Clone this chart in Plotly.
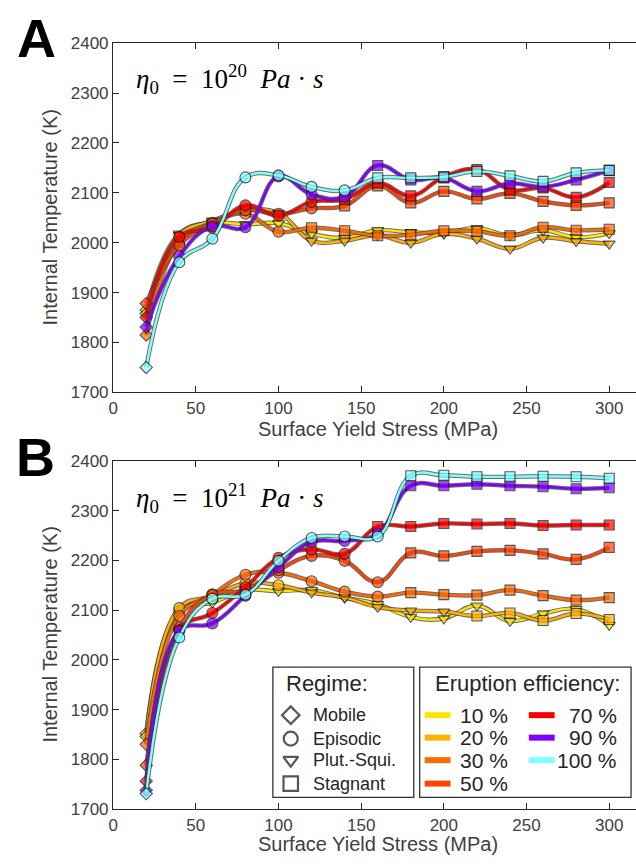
import plotly.graph_objects as go

W, H = 636, 865


def fx(p):
    return p / W


def fy(p):
    return 1 - p / H


# ---------------- data ----------------
stress = [20, 40, 60, 80, 100, 120, 140, 160, 180, 200, 220, 240, 260, 280, 300]
efficiency = ["10 %", "20 %", "30 %", "50 %", "70 %", "90 %", "100 %"]
colors = ["#FFE600", "#FFB000", "#FF6A00", "#FF4400", "#FF0000", "#8000FF", "#80FFFF"]

# Panel A: eta0 = 1e20 Pa s
A_10 = [1865, 2018, 2040, 2037, 2039, 2018, 2010, 2025, 2021, 2020, 2029, 2015, 2025, 2011, 2019]
A_20 = [1858, 2015, 2044, 2065, 2060, 2004, 2004, 2015, 2000, 2018, 2008, 1988, 2010, 2003, 1998]
A_30 = [1815, 2000, 2040, 2058, 2022, 2030, 2024, 2014, 2016, 2024, 2023, 2014, 2031, 2025, 2027]
A_50 = [1878, 1995, 2038, 2065, 2058, 2069, 2074, 2114, 2080, 2103, 2088, 2099, 2083, 2075, 2080]
A_70 = [1850, 2012, 2030, 2075, 2054, 2082, 2087, 2120, 2094, 2132, 2147, 2106, 2110, 2091, 2121]
A_90 = [1831, 1973, 2033, 2031, 2133, 2097, 2092, 2155, 2126, 2130, 2103, 2119, 2112, 2126, 2145]
A_100 = [1750, 1961, 2008, 2131, 2135, 2112, 2105, 2130, 2130, 2132, 2143, 2134, 2123, 2140, 2145]

# regimes: M=Mobile, E=Episodic, P=Plut.-Squi., S=Stagnant
A_reg_10 = list("MPPPPPPPPPPPPPP")
A_reg_20 = list("MPPPPPPPPPPPPPP")
A_reg_30 = list("MEEEESSSSSSSSSS")
A_reg_50 = list("MEEEEESSSSSSSSS")
A_reg_70 = list("MEEEEESSSSSSSSS")
A_reg_90 = list("MEEEEEESSSSSSSS")
A_reg_100 = list("MEEEEEESSSSSSSS")

# Panel B: eta0 = 1e21 Pa s
B_10 = [1852, 2098, 2115, 2140, 2138, 2140, 2125, 2112, 2086, 2083, 2109, 2078, 2093, 2102, 2070]
B_20 = [1846, 2104, 2128, 2154, 2150, 2135, 2125, 2106, 2099, 2097, 2088, 2094, 2079, 2093, 2081]
B_30 = [1830, 2088, 2131, 2171, 2175, 2158, 2137, 2127, 2135, 2131, 2130, 2140, 2129, 2120, 2125]
B_50 = [1788, 2064, 2131, 2140, 2180, 2209, 2199, 2156, 2215, 2209, 2218, 2220, 2213, 2202, 2226]
B_70 = [1756, 2060, 2094, 2146, 2205, 2222, 2213, 2268, 2268, 2274, 2273, 2274, 2270, 2271, 2271]
B_90 = [1738, 2058, 2073, 2129, 2186, 2237, 2239, 2254, 2350, 2350, 2353, 2350, 2348, 2344, 2346]
B_100 = [1731, 2045, 2123, 2131, 2199, 2245, 2248, 2248, 2370, 2371, 2368, 2368, 2369, 2368, 2365]

B_reg_10 = list("MEPPPPPPPPPPPPP")
B_reg_20 = list("MEEEEPPPPPSSSSS")
B_reg_30 = list("MEEEEEEESSSSSSS")
B_reg_50 = list("MEEEEEEESSSSSSS")
B_reg_70 = list("MEEEEEESSSSSSSS")
B_reg_90 = list("MEEEEEEESSSSSSS")
B_reg_100 = list("MEEEEEEESSSSSSS")

regime_names = ["Mobile", "Episodic", "Plut.-Squi.", "Stagnant"]
x_ticks = [0, 50, 100, 150, 200, 250, 300]
y_ticks = [1700, 1800, 1900, 2000, 2100, 2200, 2300, 2400]

panels = [
    ("x", "y", [A_10, A_20, A_30, A_50, A_70, A_90, A_100],
     [A_reg_10, A_reg_20, A_reg_30, A_reg_50, A_reg_70, A_reg_90, A_reg_100]),
    ("x2", "y2", [B_10, B_20, B_30, B_50, B_70, B_90, B_100],
     [B_reg_10, B_reg_20, B_reg_30, B_reg_50, B_reg_70, B_reg_90, B_reg_100]),
]

sym_map = {"M": "diamond", "E": "circle", "P": "triangle-down", "S": "square"}
size_map = {"M": 9.5, "E": 11, "P": 10.5, "S": 10}

fig = go.Figure()

for xa, ya, series, regimes in panels:
    for vals, regs, col in zip(series, regimes, colors):
        fig.add_trace(go.Scatter(
            x=stress, y=vals, xaxis=xa, yaxis=ya, mode="lines",
            line=dict(color="rgba(60,60,60,0.75)", width=4.4, shape="spline", smoothing=1.2),
            hoverinfo="skip", showlegend=False))
        fig.add_trace(go.Scatter(
            x=stress, y=vals, xaxis=xa, yaxis=ya, mode="lines+markers",
            line=dict(color=col, width=2.4, shape="spline", smoothing=1.2),
            marker=dict(symbol=[sym_map[r] for r in regs],
                        size=[size_map[r] for r in regs],
                        color=col, line=dict(color="#111111", width=1.1)),
            showlegend=False))

# legend regime symbols (pixel overlay axes)
leg_rows = [722, 746, 768, 792]
fig.add_trace(go.Scatter(
    x=[288] * 4, y=leg_rows, xaxis="x3", yaxis="y3", mode="markers",
    marker=dict(symbol=["diamond", "circle", "triangle-down", "square"],
                size=[13.5, 14, 13, 14.5], color="white",
                line=dict(color="#111111", width=2.2)),
    hoverinfo="skip", showlegend=False))

axis_font = dict(family="Liberation Sans, Arial, sans-serif", size=17, color="#404040")
common_x = dict(range=[0, 316.2], tickvals=x_ticks, ticks="inside", ticklen=6,
                tickcolor="#262626", showline=True, linecolor="#262626", linewidth=1.3,
                mirror="ticks", showgrid=False, zeroline=False, tickfont=axis_font,
                fixedrange=True)
common_y = dict(range=[1700, 2400], tickvals=y_ticks, ticks="inside", ticklen=6,
                tickcolor="#262626", showline=True, linecolor="#262626", linewidth=1.3,
                showgrid=False, zeroline=False, tickfont=axis_font, fixedrange=True)

fig.update_layout(
    width=W, height=H, margin=dict(l=0, r=0, t=0, b=0),
    paper_bgcolor="white", plot_bgcolor="rgba(0,0,0,0)",
    xaxis=dict(domain=[fx(109), 1], anchor="y", **common_x),
    yaxis=dict(domain=[fy(392), fy(35)], anchor="x", **common_y),
    xaxis2=dict(domain=[fx(109), 1], anchor="y2", **common_x),
    yaxis2=dict(domain=[fy(818), fy(462)], anchor="x2", **common_y),
    xaxis3=dict(domain=[0, 1], range=[0, W], visible=False, anchor="y3", fixedrange=True),
    yaxis3=dict(domain=[0, 1], range=[H, 0], visible=False, anchor="x3", fixedrange=True),
)

ann = []
title_font = dict(family="Liberation Sans, Arial, sans-serif", size=20, color="#404040")
for yc_title, yc_y in [(429, 213.5), (854, 640)]:
    ann.append(dict(text="Surface Yield Stress (MPa)", x=fx(376), y=fy(yc_title), xref="paper",
                    yref="paper", showarrow=False, font=title_font, xanchor="center", yanchor="middle"))
    ann.append(dict(text="Internal Temperature (K)", x=fx(45), y=fy(yc_y), xref="paper",
                    yref="paper", showarrow=False, font=title_font, textangle=-90,
                    xanchor="center", yanchor="middle"))

letter_font = dict(family="Liberation Sans, Arial, sans-serif", size=54, color="black")
ann.append(dict(text="<b>A</b>", x=fx(32), y=fy(30), xref="paper", yref="paper",
                showarrow=False, font=letter_font, xanchor="center", yanchor="middle"))
ann.append(dict(text="<b>B</b>", x=fx(31), y=fy(458), xref="paper", yref="paper",
                showarrow=False, font=letter_font, xanchor="center", yanchor="middle"))

eta_font = dict(family="Liberation Serif, Times New Roman, serif", size=27, color="black")
for exp, yc in [("20", 72), ("21", 500)]:
    ann.append(dict(
        text=f"<i>η</i><sub>0</sub>&nbsp;&nbsp;=&nbsp;&nbsp;10<sup>{exp}</sup>&nbsp;&nbsp;<i>Pa</i>&nbsp;·&nbsp;<i>s</i>",
        x=fx(130), y=fy(yc), xref="paper", yref="paper", showarrow=False, font=eta_font,
        xanchor="left", yanchor="middle"))

# legend boxes
shapes = []
for x0, x1 in [(270, 412), (418, 631)]:
    shapes.append(dict(type="rect", xref="paper", yref="paper", x0=fx(x0), x1=fx(x1),
                       y0=fy(806), y1=fy(673), line=dict(color="#333333", width=1.3),
                       fillcolor="white", layer="below"))

leg_title_font = dict(family="Liberation Sans, Arial, sans-serif", size=22, color="#262626")
ann.append(dict(text="Regime:", x=fx(325), y=fy(690), xref="paper", yref="paper",
                showarrow=False, font=leg_title_font, xanchor="center", yanchor="middle"))
ann.append(dict(text="Eruption efficiency:", x=fx(527), y=fy(690), xref="paper", yref="paper",
                showarrow=False, font=leg_title_font, xanchor="center", yanchor="middle"))

reg_font = dict(family="Liberation Sans, Arial, sans-serif", size=18, color="#262626")
for name, yr in zip(regime_names, leg_rows):
    ann.append(dict(text=name, x=fx(308), y=fy(yr), xref="paper", yref="paper",
                    showarrow=False, font=reg_font, xanchor="left", yanchor="middle"))

eff_font = dict(family="Liberation Sans, Arial, sans-serif", size=21, color="#262626")
eff_rows = [722, 745, 768, 792]
for i, (lab, col) in enumerate(zip(efficiency, colors)):
    if i < 4:
        lx0, lx1, yr = 423, 449, eff_rows[i]
        ann.append(dict(text=lab, x=fx(457), y=fy(yr), xref="paper", yref="paper",
                        showarrow=False, font=eff_font, xanchor="left", yanchor="middle"))
    else:
        lx0, lx1, yr = 528, 554, eff_rows[i - 4]
        ann.append(dict(text=lab, x=fx(619), y=fy(yr), xref="paper", yref="paper",
                        showarrow=False, font=eff_font, xanchor="right", yanchor="middle"))
    shapes.append(dict(type="line", xref="paper", yref="paper", x0=fx(lx0), x1=fx(lx1),
                       y0=fy(yr), y1=fy(yr), line=dict(color=col, width=6)))

fig.update_layout(annotations=ann, shapes=shapes)
fig.write_html(
    "out.html",
    config={"displayModeBar": False},
    post_script=("document.body.style.margin='0';document.body.style.overflow='hidden';"
                 "var d=document.getElementById('{plot_id}');"
                 "d.style.position='fixed';d.style.left='0px';d.style.top='0px';"),
)
